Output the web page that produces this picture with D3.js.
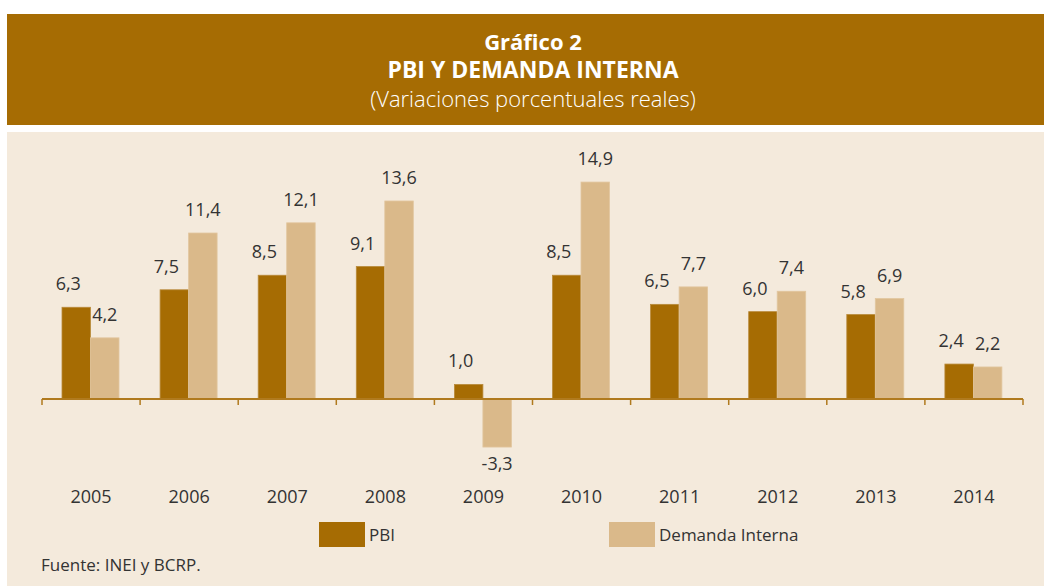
<!DOCTYPE html>
<html>
<head>
<meta charset="utf-8">
<script src="https://cdn.jsdelivr.net/npm/d3@7"></script>
<style>
  html, body { margin: 0; padding: 0; background: #ffffff; }
  svg { display: block; }
  text { font-family: "Open Sans", "Noto Sans", sans-serif; }
</style>
</head>
<body>
<svg id="chart" width="1044" height="586"></svg>
<script>
const years = ["2005","2006","2007","2008","2009","2010","2011","2012","2013","2014"];
const seriesNames = ["PBI", "Demanda Interna"];
const pbi = [6.3, 7.5, 8.5, 9.1, 1.0, 8.5, 6.5, 6.0, 5.8, 2.4];
const demanda = [4.2, 11.4, 12.1, 13.6, -3.3, 14.9, 7.7, 7.4, 6.9, 2.2];
const titleLines = ["Gráfico 2", "PBI Y DEMANDA INTERNA", "(Variaciones porcentuales reales)"];
const sourceText = "Fuente: INEI y BCRP.";

const colors = { "PBI": "#A66C03", "Demanda Interna": "#DAB98A" };
const labelShift = { "PBI": -8, "Demanda Interna": 0 };
const headerColor = "#A66C03";
const bgColor = "#F4EADC";
const axisColor = "#B07A1E";
const textColor = "#333333";

const svg = d3.select("#chart");
const W = 1044, H = 586;

const es = d3.formatLocale({ decimal: ",", thousands: ".", grouping: [3], currency: ["", " €"], minus: "-" });
const fmt = es.format(".1f");

// header band
svg.append("rect").attr("x", 7).attr("y", 14).attr("width", W - 7).attr("height", 111).attr("fill", headerColor);
svg.append("text").attr("x", 533).attr("y", 50).attr("text-anchor", "middle")
  .attr("fill", "#fff").attr("font-size", 22).attr("font-weight", 700).text(titleLines[0]);
svg.append("text").attr("x", 533).attr("y", 78).attr("text-anchor", "middle")
  .attr("fill", "#fff").attr("font-size", 23).attr("font-weight", 700).text(titleLines[1]);
svg.append("text").attr("x", 533).attr("y", 107).attr("text-anchor", "middle")
  .attr("fill", "#fff").attr("font-size", 22).attr("font-weight", 300).text(titleLines[2]);

// plot background
svg.append("rect").attr("x", 7).attr("y", 132).attr("width", W - 7).attr("height", H - 132).attr("fill", bgColor);

// scales
const x = d3.scaleBand().domain(years).range([42, 1023]).paddingInner(0).paddingOuter(0);
const x1 = d3.scaleBand().domain(seriesNames).range([20, 77]).padding(0);
const pxPerUnit = 14.56;
const y = d3.scaleLinear().domain([-4, 16]).range([399 + 4 * pxPerUnit, 399 - 16 * pxPerUnit]);

const rows = years.map((yr, i) => ({ year: yr, values: [
  { key: "PBI", v: pbi[i] },
  { key: "Demanda Interna", v: demanda[i] }
]}));

const g = svg.append("g");
const groups = g.selectAll("g.yr").data(rows).join("g")
  .attr("class", "yr")
  .attr("transform", d => `translate(${x(d.year)},0)`);

groups.selectAll("rect").data(d => d.values).join("rect")
  .attr("x", d => x1(d.key))
  .attr("width", x1.bandwidth())
  .attr("y", d => y(Math.max(0, d.v)))
  .attr("height", d => Math.abs(y(d.v) - y(0)))
  .attr("fill", d => colors[d.key])
  .attr("stroke", d => d.key === "PBI" ? "#B98A3A" : "#E2C69E")
  .attr("stroke-width", 0.8);

groups.selectAll("text.val").data(d => d.values).join("text")
  .attr("class", "val")
  .attr("x", d => x1(d.key) + x1.bandwidth() / 2 + labelShift[d.key])
  .attr("y", d => d.v >= 0 ? y(d.v) - 17 : y(d.v) + 23)
  .attr("text-anchor", "middle")
  .attr("font-size", 18)
  .attr("fill", textColor)
  .text(d => fmt(d.v));

// axis
const y0 = y(0);
svg.append("line").attr("x1", x.range()[0]).attr("x2", x.range()[1])
  .attr("y1", y0).attr("y2", y0).attr("stroke", axisColor).attr("stroke-width", 2);
const tickXs = years.map(d => x(d)).concat([x.range()[1]]);
svg.selectAll("line.tick").data(tickXs).join("line")
  .attr("class", "tick")
  .attr("x1", d => d).attr("x2", d => d)
  .attr("y1", y0).attr("y2", y0 + 6)
  .attr("stroke", axisColor).attr("stroke-width", 1.5);

svg.selectAll("text.year").data(years).join("text")
  .attr("class", "year")
  .attr("x", d => x(d) + x.bandwidth() / 2)
  .attr("y", 503)
  .attr("text-anchor", "middle")
  .attr("font-size", 18)
  .attr("fill", textColor)
  .text(d => d);

// legend
const legendX = [319, 609];
const lg = svg.selectAll("g.leg").data(seriesNames).join("g")
  .attr("class", "leg")
  .attr("transform", (d, i) => `translate(${legendX[i]},522)`);
lg.append("rect").attr("width", 46).attr("height", 25).attr("fill", d => colors[d]);
lg.append("text").attr("x", 50).attr("y", 19).attr("font-size", 17).attr("fill", textColor).text(d => d);

// source
svg.append("text").attr("x", 41).attr("y", 571).attr("font-size", 17).attr("fill", textColor).text(sourceText);
</script>
</body>
</html>
